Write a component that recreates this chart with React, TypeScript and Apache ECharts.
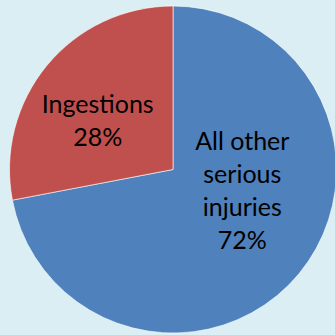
import React, { useEffect, useRef } from "react";
import * as echarts from "echarts";

const categories = ["All other\nserious\ninjuries", "Ingestions"];
const values = [72, 28];
const colors = ["#4f81bd", "#c0504d"];
const labelOffsets = [[4, -34], [-10, 4]];

export default function App() {
  const ref = useRef<HTMLDivElement>(null);
  useEffect(() => {
    document.body.style.margin = "0";
    const chart = echarts.init(ref.current!, null, { renderer: "svg" });
    chart.setOption({
      animation: false,
      backgroundColor: "#daeef3",
      series: [
        {
          type: "pie",
          center: [173, 169.5],
          radius: 163.5,
          startAngle: 90,
          clockwise: true,
          avoidLabelOverlap: false,
          itemStyle: { borderColor: "#ffffff", borderWidth: 0.6 },
          label: {
            show: true,
            position: "inside",
            color: "#000",
            fontFamily: "Lato",
            fontSize: 25,
            lineHeight: 33,
            align: "center",
            formatter: (p: any) => `${p.name}\n${p.value}%`,
          },
          labelLine: { show: false },
          emphasis: { disabled: true },
          data: categories.map((name, i) => ({
            name,
            value: values[i],
            itemStyle: { color: colors[i] },
            label: { offset: labelOffsets[i] },
          })),
        },
      ],
    });
    return () => chart.dispose();
  }, []);
  return (
    <div
      ref={ref}
      style={{ position: "absolute", left: 0, top: 0, width: 335, height: 335 }}
    />
  );
}
